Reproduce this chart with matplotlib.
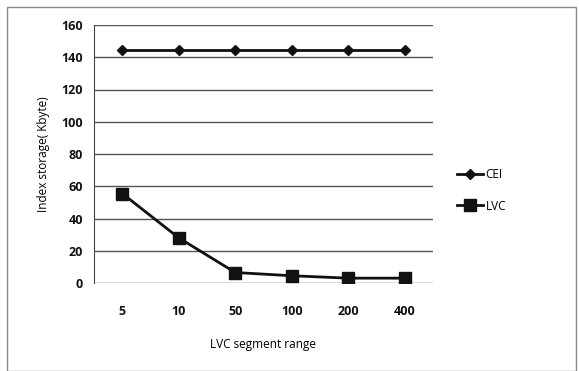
import matplotlib
matplotlib.use("Agg")
import matplotlib.pyplot as plt
from matplotlib.patches import Rectangle

categories = ["5", "10", "50", "100", "200", "400"]
cei = [144.5, 144.5, 144.5, 144.5, 144.5, 144.5]
lvc = [55.5, 28, 6.5, 4.5, 3, 3]
yticks = [0, 20, 40, 60, 80, 100, 120, 140, 160]

plt.rcParams['font.family'] = ['Open Sans', 'DejaVu Sans']

fig = plt.figure(figsize=(5.79, 3.71), dpi=100)
ax = fig.add_axes([94/579, 1-283/371, (433-94)/579, (283-25)/371])

x = list(range(len(categories)))
ax.plot(x, cei, color='#111111', lw=2, marker='D', ms=5, label='CEI')
ax.plot(x, lvc, color='#111111', lw=2, marker='s', ms=8, label='LVC')

ax.set_xlim(-0.5, len(categories) - 0.5)
ax.set_ylim(0, 160)
ax.set_yticks(yticks)
ax.set_xticks(x)
ax.set_xticklabels(categories)
ax.yaxis.grid(True, color='#555555', lw=1)
ax.set_axisbelow(True)
for s in ['top', 'right', 'bottom']:
    ax.spines[s].set_visible(False)
ax.spines['left'].set_color('#444444')
ax.tick_params(axis='both', length=0, labelsize=9, colors='#111111')
ax.tick_params(axis='x', pad=16)
ax.tick_params(axis='y', pad=8)
for lbl in ax.get_xticklabels() + ax.get_yticklabels():
    lbl.set_fontweight('bold')

ax.set_xlabel('LVC segment range', fontsize=8.5, labelpad=14)
ax.set_ylabel('Index storage( Kbyte)', fontsize=8.5, labelpad=8)

ax.legend(loc='center left', bbox_to_anchor=(1.04, 0.36), frameon=False,
          fontsize=8.5, handlelength=2.2, labelspacing=1.6, handletextpad=0.2)

fig.patches.append(Rectangle((7/579, 0), (576-7)/579, 1-7/371, transform=fig.transFigure,
                             fill=False, edgecolor='#888888', lw=1))

fig.savefig('out.png', dpi=100)
